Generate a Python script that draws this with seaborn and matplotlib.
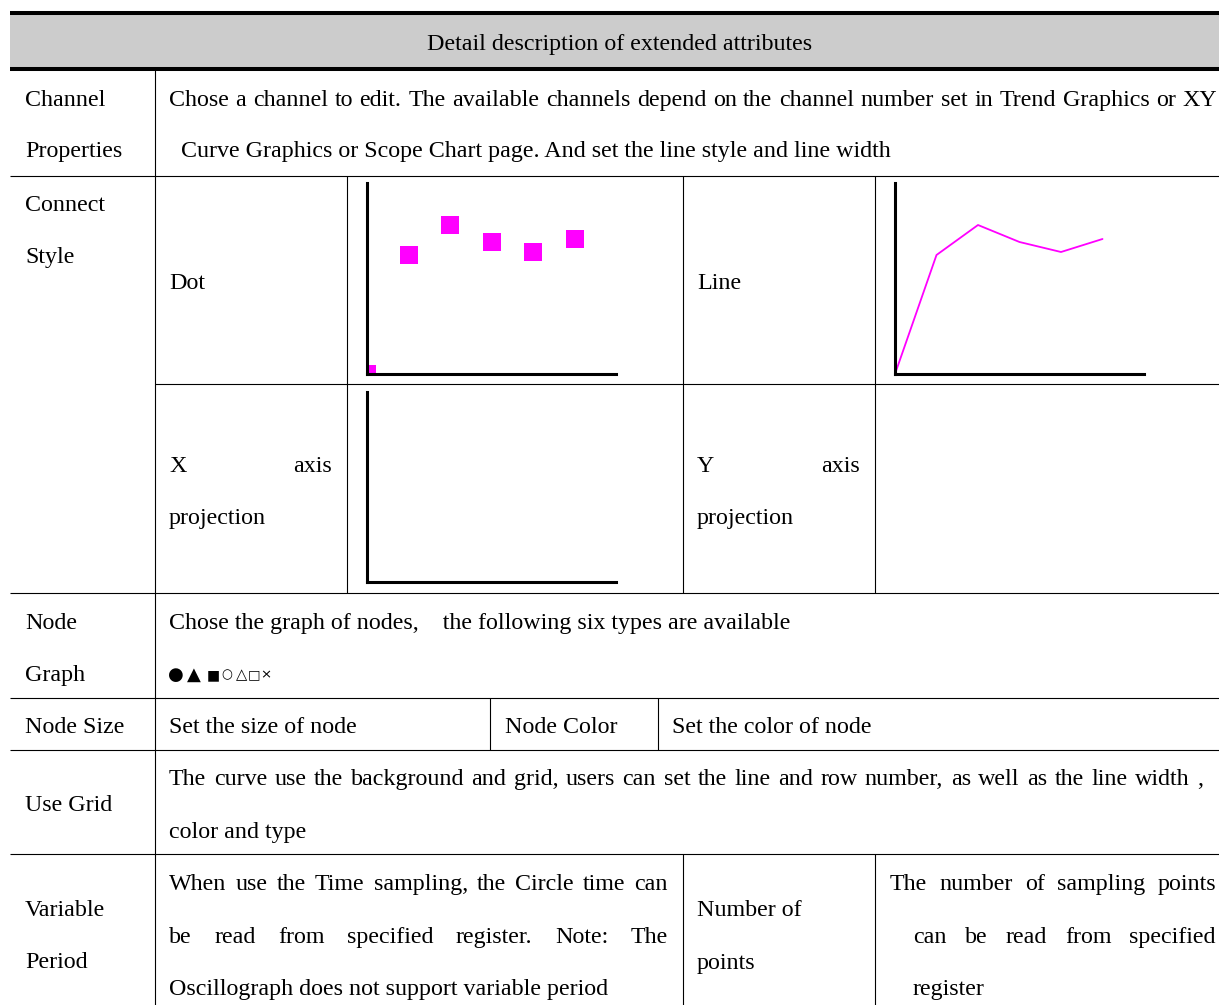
import matplotlib
matplotlib.use('Agg')
import matplotlib.pyplot as plt
import seaborn as sns
from matplotlib.patches import Rectangle

# preview curve used in the "Dot" and "Line" cells
sample_x = [0, 1, 2, 3, 4, 5]
sample_y = [0, 119, 149, 132, 122, 135]

header = 'Detail description of extended attributes'
channel_label = ['Channel', 'Properties']
channel_text = ['Chose a channel to edit. The available channels depend on the channel number set in Trend Graphics or XY',
                'Curve Graphics or Scope Chart page. And set the line style and line width']
connect_label = ['Connect', 'Style']
style_names = ['Dot', 'Line', 'X axis projection', 'Y axis projection']
node_label = ['Node', 'Graph']
node_text = 'Chose the graph of nodes,    the following six types are available'
node_symbols = ['●', '▲', '■', '○', '△', '□', '×']
size_row = ['Node Size', 'Set the size of node', 'Node Color', 'Set the color of node']
grid_label = 'Use Grid'
grid_text = ['The curve use the background and grid, users can set the line and row number, as well as the line width ,',
             'color and type']
var_label = ['Variable', 'Period']
var_text = ['When use the Time sampling, the Circle time can',
            'be read from specified register. Note: The',
            'Oscillograph does not support variable period']
points_label = ['Number of', 'points']
points_text = ['The number of sampling points', 'can be read from specified', 'register']

sns.set_style('white')
plt.rcParams['font.family'] = ['Liberation Serif', 'DejaVu Sans']

W, H = 1219, 1005
FS = 17.3
MAGENTA = '#ff00ff'

fig = plt.figure(figsize=(W / 100, H / 100), dpi=100)
bg = fig.add_axes([0, 0, 1, 1])
bg.set_xlim(0, W)
bg.set_ylim(H, 0)
bg.axis('off')
rend = fig.canvas.get_renderer()


def hline(y, x0=10, x1=W, lw=0.8):
    bg.plot([x0, x1], [y, y], color='black', lw=lw, solid_capstyle='butt')


def vline(x, y0, y1, lw=0.8):
    bg.plot([x, x], [y0, y1], color='black', lw=lw, solid_capstyle='butt')


def put(x, y, s, ha='left', **kw):
    return bg.text(x, y, s, ha=ha, va='baseline', fontsize=FS, color='black', **kw)


def justify(s, x0, x1, y):
    words = s.split()
    texts = [put(0, y, w) for w in words]
    widths = [t.get_window_extent(rend).width for t in texts]
    gap = (x1 - x0 - sum(widths)) / max(len(words) - 1, 1)
    x = x0
    for t, w in zip(texts, widths):
        t.set_x(x)
        x += w + gap


# header band
bg.add_patch(Rectangle((10, 15), W - 10, 52, color='#cccccc', lw=0))
hline(13, lw=2.9)
hline(69, lw=2.9)
put(620, 50, header, ha='center')

# grid lines
for y in [176, 593, 698, 750, 854]:
    hline(y)
hline(384, x0=155)
vline(155, 70, H)
for x in [347, 683, 875]:
    vline(x, 176, 593)
for x in [490, 658]:
    vline(x, 698, 750)
for x in [683, 875]:
    vline(x, 854, H)

# channel properties
put(25, 106, channel_label[0])
put(25, 157, channel_label[1])
justify(channel_text[0], 169, 1217, 106)
put(181, 157, channel_text[1])

# connect style
put(25, 211, connect_label[0])
put(25, 263, connect_label[1])
put(169, 289, style_names[0])
put(697, 289, style_names[1])
xs_words = style_names[2].split()
justify(' '.join(xs_words[:2]), 169, 332, 472)
put(169, 524, xs_words[2])
ys_words = style_names[3].split()
justify(' '.join(ys_words[:2]), 697, 860, 472)
put(697, 524, ys_words[2])


def chart_axes(x0, y_base, w=249, h=191):
    ax = fig.add_axes([x0 / W, (H - y_base) / H, w / W, h / H])
    ax.set_facecolor('none')
    sns.despine(ax=ax)
    for side in ['left', 'bottom']:
        ax.spines[side].set_linewidth(2.2)
        ax.spines[side].set_color('black')
    ax.set_xlim(0, 6)
    ax.set_ylim(0, 191)
    ax.set_xticks([])
    ax.set_yticks([])
    return ax


ax_dot = chart_axes(367, 374)
sns.scatterplot(x=sample_x, y=sample_y, marker='s', s=150, color=MAGENTA,
                linewidth=0, ax=ax_dot)
ax_dot.set(xlabel='', ylabel='')

ax_line = chart_axes(895, 374)
sns.lineplot(x=sample_x, y=sample_y, color=MAGENTA, lw=1.3, ax=ax_line)
ax_line.set(xlabel='', ylabel='')

ax_proj = chart_axes(367, 582, h=190)

# node graph
put(25, 629, node_label[0])
put(25, 681, node_label[1])
put(169, 629, node_text)
sym_x = [176, 194, 213, 227, 242, 254, 266]
sym_fs = [13, 13, 10, 9, 10.5, 9.5, 9.5]
for s, x, f in zip(node_symbols, sym_x, sym_fs):
    bg.text(x, 675, s, ha='center', va='center', fontsize=f, color='black',
            family=['DejaVu Sans'])

# node size / color
put(25, 733, size_row[0])
put(169, 733, size_row[1])
put(505, 733, size_row[2])
put(672, 733, size_row[3])

# use grid
put(25, 811, grid_label)
justify(grid_text[0], 169, 1203, 785)
put(169, 838, grid_text[1])

# variable period
put(25, 916, var_label[0])
put(25, 968, var_label[1])
justify(var_text[0], 169, 668, 890)
justify(var_text[1], 169, 668, 943)
put(169, 995, var_text[2])
put(697, 916, points_label[0])
put(697, 969, points_label[1])
justify(points_text[0], 890, 1216, 890)
justify(points_text[1], 913, 1216, 943)
put(913, 995, points_text[2])

fig.savefig('out.png', dpi=100)
